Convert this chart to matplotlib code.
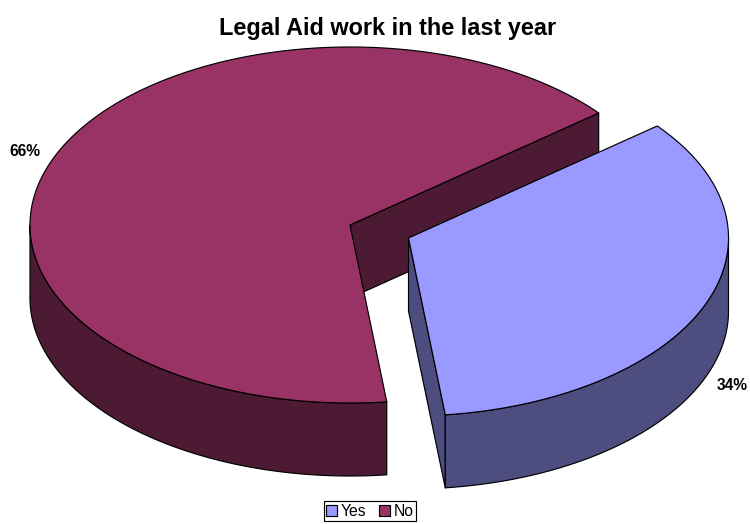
import numpy as np
from matplotlib import pyplot as plt
from matplotlib.patches import Patch, Polygon

plt.rcParams['font.family'] = ['Liberation Sans', 'DejaVu Sans']

labels = ["Yes", "No"]
values = [34, 66]
top_colors = ["#9999FF", "#993366"]
side_colors = ["#4D4D80", "#4D1A33"]

# pie geometry in pixels
RX, RY = 320, 178
DEPTH = 73
START = -39.0
CENTERS = [(408.5, 238), (350, 225)]
LABEL_POS = [(732, 386), (25, 151)]


def arc(center, t0, t1, drop=0):
	t = np.radians(np.linspace(t0, t1, 200))
	return np.column_stack((center[0] + RX*np.cos(t), center[1] + drop + RY*np.sin(t)))


def face(ax, points, color, z):
	ax.add_patch(Polygon(points, closed=True, facecolor=color, edgecolor='black', linewidth=0.85, joinstyle='round', zorder=z))


def cut_wall(ax, center, t, color, z):
	# flat wall along a cut edge, from the pie centre out to the rim
	rim = arc(center, t, t, 0)[0]
	c = np.array(center, dtype=float)
	d = np.array([0, DEPTH])
	face(ax, [c, rim, rim + d, c + d], color, z)


def rim_wall(ax, center, t0, t1, color, z):
	# only the front half of the rim can be seen
	t0, t1 = max(t0, 0), min(t1, 180)
	face(ax, np.vstack((arc(center, t0, t1), arc(center, t1, t0, DEPTH))), color, z)


fig = plt.figure(figsize=(7.5, 5.24), dpi=100)
ax = fig.add_axes([0, 0, 1, 1])
ax.set_xlim(0, 750)
ax.set_ylim(524, 0)
ax.axis('off')

sweeps = np.array(values)/sum(values)*360
yes_start, yes_end = START, START + sweeps[0]
no_start, no_end = yes_end, yes_end + sweeps[1]

# the "No" slice sits behind, so it goes first
cut_wall(ax, CENTERS[1], no_end, side_colors[1], 1)
rim_wall(ax, CENTERS[1], no_start, no_end, side_colors[1], 1)
face(ax, np.vstack(([CENTERS[1]], arc(CENTERS[1], no_start, no_end))), top_colors[1], 2)

cut_wall(ax, CENTERS[0], yes_end, side_colors[0], 3)
rim_wall(ax, CENTERS[0], yes_start, yes_end, side_colors[0], 3)
face(ax, np.vstack(([CENTERS[0]], arc(CENTERS[0], yes_start, yes_end))), top_colors[0], 4)

for pos, v in zip(LABEL_POS, values):
	ax.text(pos[0], pos[1], f"{v}%", ha='center', va='center', fontsize=11.2, fontweight='bold')

ax.text(388, 28, "Legal Aid work in the last year", ha='center', va='center', fontsize=16.9, fontweight='bold')

handles = [Patch(facecolor=c, edgecolor='black', linewidth=0.85) for c in top_colors]
leg = ax.legend(handles, labels, loc='center', bbox_to_anchor=(370/750, 1 - 511.3/524), ncol=2, frameon=True,
	fancybox=False, edgecolor='black', framealpha=1, fontsize=11.3, handlelength=0.68, handleheight=0.68,
	handletextpad=0.25, columnspacing=0.8, borderpad=0.15, borderaxespad=0)
leg.get_frame().set_linewidth(0.85)

fig.savefig("out.png", dpi=100)
